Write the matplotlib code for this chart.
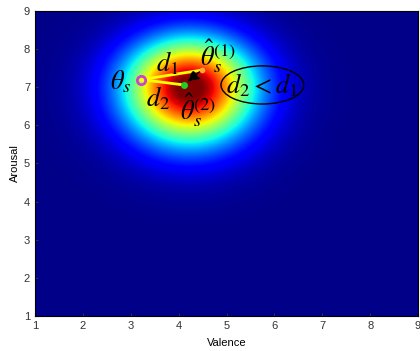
import numpy as np
import matplotlib.pyplot as plt
from matplotlib.patches import Ellipse

plt.rcParams['mathtext.fontset'] = 'stix'
plt.rcParams['font.family'] = ['Liberation Sans', 'DejaVu Sans']

# Density blob (valence, arousal): peak, centre and spread
blob_peak = 1.04
blob_center = [4.22, 6.98]
blob_sigma_x = 0.93
blob_sigma_up = 0.88
blob_sigma_down = 1.0

# points
theta_s = [3.22, 7.2]
theta_hat1 = [4.48, 7.45]
theta_hat2 = [4.11, 7.06]
arrow_tip = [4.14, 7.1]

ticks = [1, 2, 3, 4, 5, 6, 7, 8, 9]

xs = np.linspace(1, 9, 400)
ys = np.linspace(1, 9, 400)
X, Y = np.meshgrid(xs, ys)
sig_y = np.where(Y >= blob_center[1], blob_sigma_up, blob_sigma_down)
Z = blob_peak * np.exp(-0.5 * (((X - blob_center[0]) / blob_sigma_x) ** 2
                                + ((Y - blob_center[1]) / sig_y) ** 2))

fig = plt.figure(figsize=(4.2, 3.51), dpi=100)
ax = fig.add_axes([0.0833, 0.0997, 0.912, 0.869])
ax.imshow(Z, extent=[1, 9, 1, 9], origin='lower', cmap='jet', vmin=-0.01, vmax=1,
          aspect='auto', interpolation='bilinear')

# yellow distance lines
ax.plot([theta_s[0], theta_hat1[0]], [theta_s[1], theta_hat1[1]], color='#ffff00', lw=2)
ax.plot([theta_s[0], theta_hat2[0]], [theta_s[1], theta_hat2[1]], color='#ffff00', lw=2)

# arrow from estimate 1 toward estimate 2
ax.annotate('', xy=arrow_tip, xytext=theta_hat1,
            arrowprops=dict(arrowstyle='-|>', color='black', lw=1, ls='--',
                            mutation_scale=17))

ax.plot(theta_s[0], theta_s[1], 'o', mfc='none', mec='#cc44cc', mew=2, ms=6)
ax.plot(theta_hat1[0], theta_hat1[1], 'o', color='#ffaa33', ms=3)
ax.plot(theta_hat2[0], theta_hat2[1], 'o', color='#22cc22', ms=4)

fs = 19
ax.text(2.8, 7.14, r'$\theta_s$', fontsize=fs, ha='center', va='center')
ax.text(3.76, 7.63, r'$d_1$', fontsize=fs, ha='center', va='center')
ax.text(3.56, 6.72, r'$d_2$', fontsize=fs, ha='center', va='center')
ax.text(4.82, 7.83, r'$\hat{\theta}_s^{(1)}$', fontsize=fs, ha='center', va='center')
ax.text(4.4, 6.4, r'$\hat{\theta}_s^{(2)}$', fontsize=fs, ha='center', va='center')

ax.add_patch(Ellipse((5.75, 7.06), 1.73, 1.0, fill=False, ec='black', lw=1))
ax.text(5.75, 7.06, r'$d_2 < d_1$', fontsize=fs, ha='center', va='center')

ax.set_xlim(1, 9)
ax.set_ylim(1, 9)
ax.set_xticks(ticks)
ax.set_yticks(ticks)
ax.tick_params(direction='in', length=2, labelsize=8, colors='#333333')
ax.set_xlabel('Valence', fontsize=8, labelpad=5)
ax.set_ylabel('Arousal', fontsize=8, labelpad=3)

fig.savefig('out.png', dpi=100)
